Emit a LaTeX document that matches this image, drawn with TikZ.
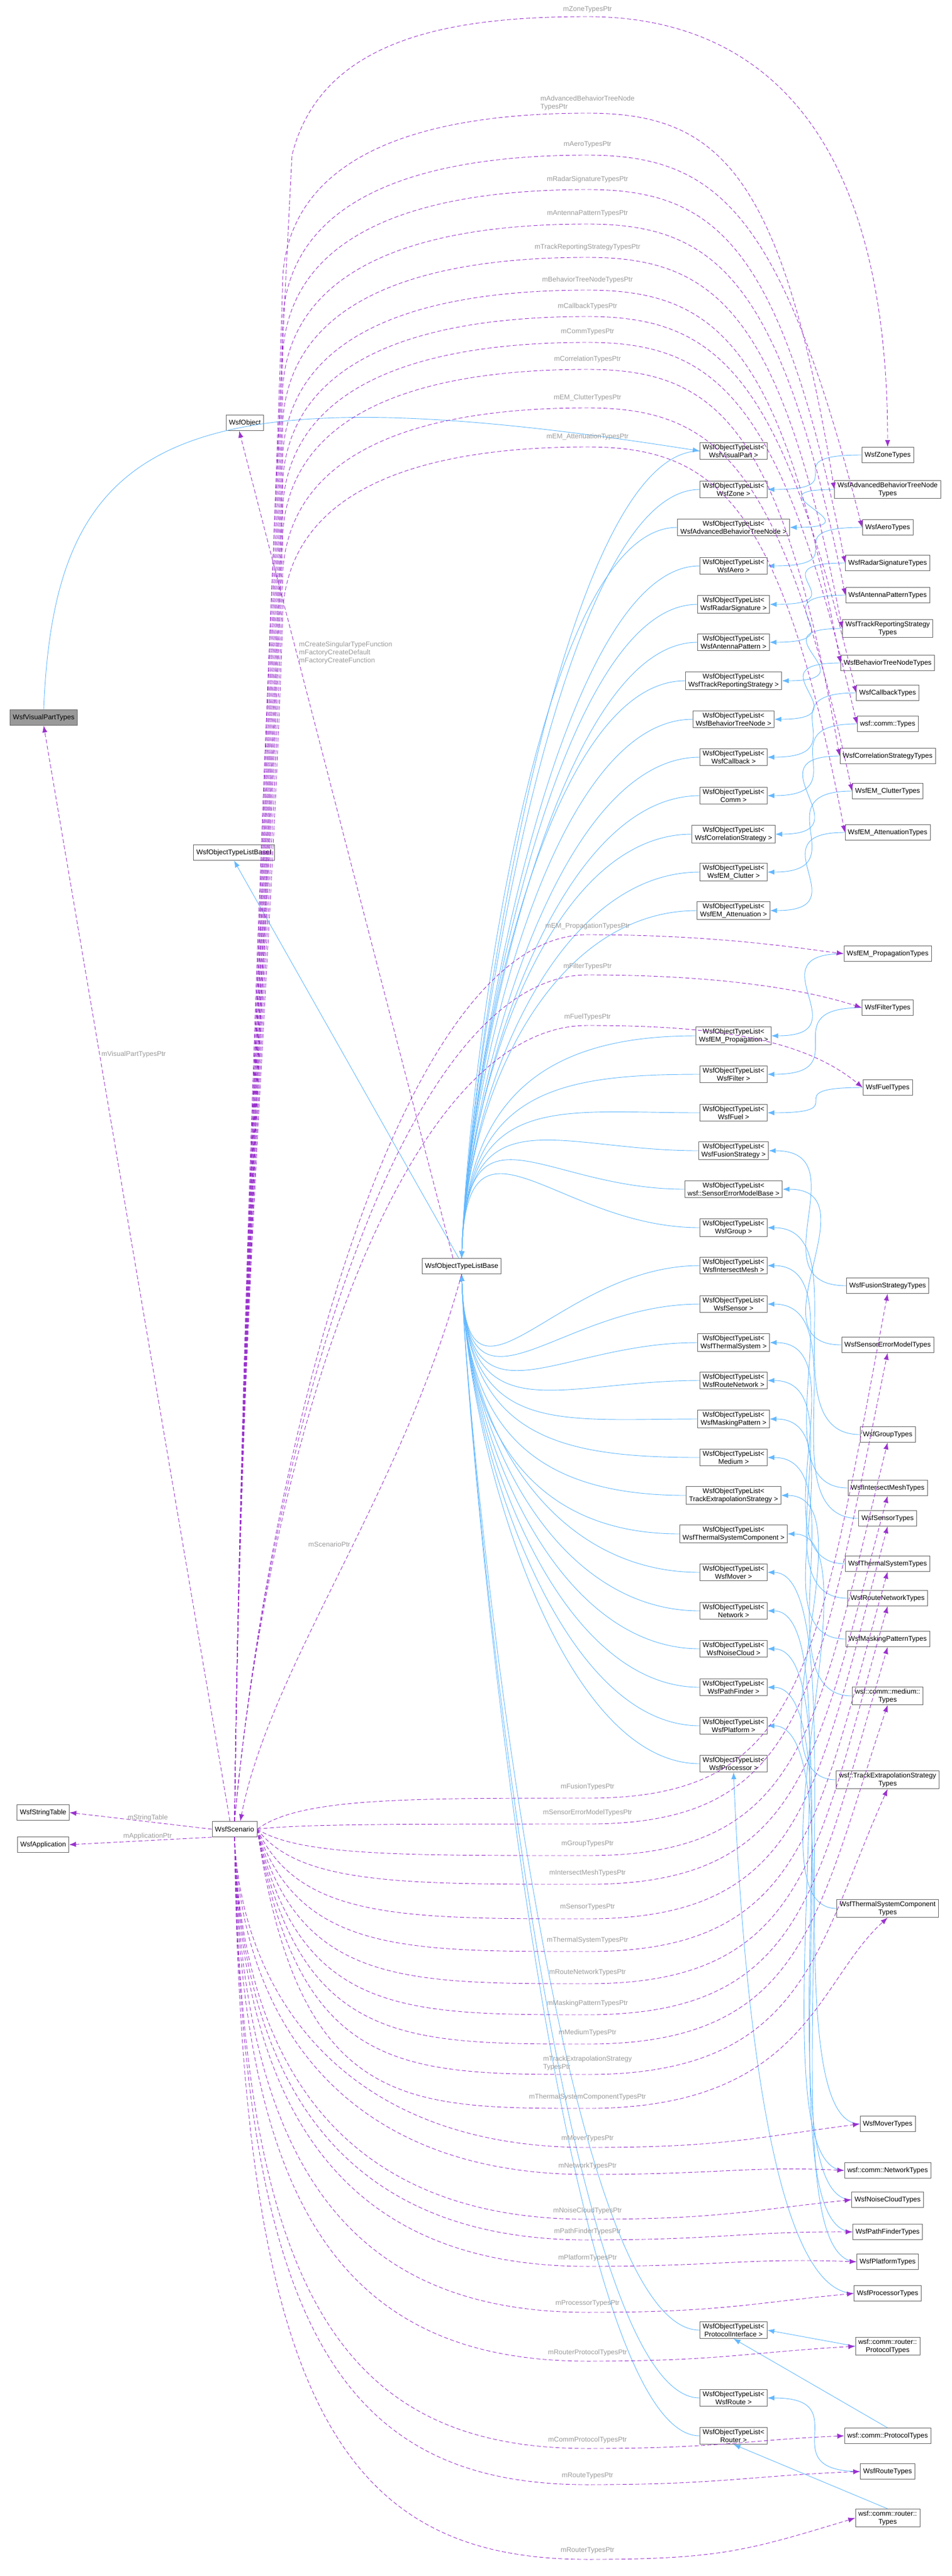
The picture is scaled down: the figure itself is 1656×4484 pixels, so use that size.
\documentclass[tikz,border=0pt]{standalone}
\usepackage{fontspec}
\setmainfont{Liberation Sans}
\usetikzlibrary{arrows.meta}
\definecolor{inhc}{HTML}{63B8FF}
\definecolor{usec}{HTML}{9A32CD}
\definecolor{lblc}{HTML}{9A9A9A}
\definecolor{bordc}{HTML}{666666}
\begin{document}
\begin{tikzpicture}[x=1pt,y=-1pt,
  box/.style={draw=bordc,line width=0.9pt,fill=white,align=center,inner xsep=5pt,inner ysep=3pt,minimum height=27pt,font=\fontsize{12}{14}\selectfont},
  lbl/.style={text=lblc,align=left,inner sep=1pt,font=\fontsize{12}{14}\selectfont},
  inh/.style={draw=inhc,line width=0.9pt,-{Latex[length=12pt,width=9pt]}},
  use/.style={draw=usec,line width=0.9pt,dash pattern=on 7pt off 4pt,-{Latex[length=12pt,width=9pt]}}]
\useasboundingbox (0,0) rectangle (1656,4484);

% left nodes
\node[box,fill=black!40] (vpt) at (76,1249) {WsfVisualPartTypes};
\node[box] (obj) at (426,736) {WsfObject};
\node[box] (basei) at (407,1484) {WsfObjectTypeListBaseI};
\node[box] (base) at (803,2204) {WsfObjectTypeListBase};
\node[box] (sc) at (408,3184) {WsfScenario};
\node[box] (st) at (75,3155) {WsfStringTable};
\node[box] (app) at (75,3211) {WsfApplication};

% ObjectTypeList nodes
\foreach \n/\t/\y in {vp/WsfVisualPart/785,zone/WsfZone/852,abtn/WsfAdvancedBehaviorTreeNode/918,aero/WsfAero/985,radar/WsfRadarSignature/1052,ant/WsfAntennaPattern/1118,trs/WsfTrackReportingStrategy/1185,btn/WsfBehaviorTreeNode/1252,cb/WsfCallback/1318,comm/Comm/1385,corr/WsfCorrelationStrategy/1452,clut/WsfEM\_Clutter/1518,att/WsfEM\_Attenuation/1585,prop/WsfEM\_Propagation/1803,filt/WsfFilter/1870,fuel/WsfFuel/1937,fus/WsfFusionStrategy/2003,sem/wsf::SensorErrorModelBase/2070,grp/WsfGroup/2137,im/WsfIntersectMesh/2203,sen/WsfSensor/2270,ts/WsfThermalSystem/2337,rn/WsfRouteNetwork/2403,mp/WsfMaskingPattern/2470,med/Medium/2537,te/TrackExtrapolationStrategy/2603,tsc/WsfThermalSystemComponent/2670,mov/WsfMover/2737,net/Network/2804,nc/WsfNoiseCloud/2870,pf/WsfPathFinder/2937,plat/WsfPlatform/3004,proc/WsfProcessor/3070,pi/ProtocolInterface/4056,rte/WsfRoute/4174,rtr/Router/4240}
  \node[box] (o-\n) at (1276,\y) {WsfObjectTypeList<\\ \t\ >};

% Types nodes
\foreach \n/\t/\y in {zone/WsfZoneTypes/792,abtn/{WsfAdvancedBehaviorTreeNode\\Types}/852,aero/WsfAeroTypes/918,radar/WsfRadarSignatureTypes/980,ant/WsfAntennaPatternTypes/1036,trs/{WsfTrackReportingStrategy\\Types}/1094,btn/WsfBehaviorTreeNodeTypes/1154,cb/WsfCallbackTypes/1206,comm/wsf::comm::Types/1260,corr/WsfCorrelationStrategyTypes/1316,clut/WsfEM\_ClutterTypes/1377,att/WsfEM\_AttenuationTypes/1449,prop/WsfEM\_PropagationTypes/1660,filt/WsfFilterTypes/1754,fuel/WsfFuelTypes/1893,fus/WsfFusionStrategyTypes/2238,sem/WsfSensorErrorModelTypes/2341,grp/WsfGroupTypes/2497,im/WsfIntersectMeshTypes/2590,sen/WsfSensorTypes/2643,ts/WsfThermalSystemTypes/2722,rn/WsfRouteNetworkTypes/2782,mp/WsfMaskingPatternTypes/2853,med/{wsf::comm::medium::\\Types}/2952,te/{wsf::TrackExtrapolationStrategy\\Types}/3098,tsc/{WsfThermalSystemComponent\\Types}/3322,mov/WsfMoverTypes/3697,net/wsf::comm::NetworkTypes/3778,nc/WsfNoiseCloudTypes/3829,pf/WsfPathFinderTypes/3885,plat/WsfPlatformTypes/3937,proc/WsfProcessorTypes/3992,pi/{wsf::comm::router::\\ProtocolTypes}/4084,cp/wsf::comm::ProtocolTypes/4240,rte/WsfRouteTypes/4302,rtr/{wsf::comm::router::\\Types}/4383}
  \node[box] (t-\n) at (1544,\y) {\t};

% inheritance: OTL -> base
\foreach \n in {vp,zone,abtn,aero,radar,ant,trs,btn,cb,comm,corr,clut,att,prop,filt,fuel,fus,sem,grp}
  \draw[inh] (o-\n.west) .. controls +(-250,0) and (812,1900) .. (base.north);
\foreach \n in {im,sen,ts,rn,mp,med,te,tsc,mov,net,nc,pf,plat,proc,pi,rte,rtr}
  \draw[inh] (o-\n.west) .. controls +(-250,0) and (812,2500) .. (base.south);
\draw[inh] (base.north) ++(-5,0) -- (basei.south);

% inheritance: Types -> OTL
\foreach \n in {zone,abtn,aero,radar,ant,trs,btn,cb,comm,corr,clut,att,prop,filt,fuel,fus,sem,grp,im,sen,ts,rn,mp,med,te,tsc,mov,net,nc,pf,plat,rte}
  \draw[inh] (t-\n.west) .. controls +(-160,0) and +(160,0) .. (o-\n.east);
\draw[inh] (t-proc.west) .. controls (1320,3990) and (1285,3300) .. (o-proc.south);
\draw[inh] (t-pi.west) -- (o-pi.east);
\draw[inh] (t-cp.north) -- (o-pi.south);
\draw[inh] (t-rtr.north) -- (o-rtr.south);
\draw[inh] (vpt.north) .. controls (95,760) and (300,640) .. (o-vp.west);

% usage from scenario
\draw[use] (sc.north) ++(-8,0) -- node[lbl,pos=0.7,right=2pt] {mVisualPartTypesPtr} (vpt.south);
\draw[use] (sc.west) -- node[lbl,above,pos=0.45] {mStringTable} (st.east);
\draw[use] (sc.south west) -- node[lbl,above,pos=0.45] {mApplicationPtr} (app.east);
\draw[use] (base.south) .. controls (700,2600) and (470,2900) .. node[lbl,pos=0.45,left=4pt] {mScenarioPtr} ([xshift=10pt]sc.north);
\draw[use] (base.north) ++(-15,0) -- ([xshift=-10pt]obj.south);
\node[lbl,anchor=west] at (519,1136) {mCreateSingularTypeFunction\\mFactoryCreateDefault\\mFactoryCreateFunction};

% top group
\foreach \n/\ly/\lab in {abtn/179/{mAdvancedBehaviorTreeNode\\TypesPtr},aero/252/mAeroTypesPtr,radar/312/mRadarSignatureTypesPtr,ant/372/mAntennaPatternTypesPtr,trs/430/mTrackReportingStrategyTypesPtr,btn/487/mBehaviorTreeNodeTypesPtr,cb/533/mCallbackTypesPtr,comm/578/mCommTypesPtr,corr/625/mCorrelationTypesPtr,clut/692/mEM\_ClutterTypesPtr,att/760/mEM\_AttenuationTypesPtr}{
  \node[lbl] at (1022,\ly) {\lab};
  \draw[use] (sc.north) .. controls (420,2200) and (475,\ly+900) .. (492,\ly+300) .. controls (510,\ly+60) and (800,\ly+18) .. (1022,\ly+18) .. controls (1250,\ly+18) and (1360,\ly+120) .. (t-\n.west);
}
\node[lbl] at (1022,17) {mZoneTypesPtr};
\draw[use] (sc.north) .. controls (420,2200) and (475,900) .. (508,270) .. controls (560,60) and (800,29) .. (1022,29) .. controls (1300,29) and (1544,200) .. (t-zone.north);
% middle group
\foreach \n/\ly/\lab in {prop/1612/mEM\_PropagationTypesPtr,filt/1682/mFilterTypesPtr,fuel/1770/mFuelTypesPtr}{
  \node[lbl] at (1022,\ly) {\lab};
  \draw[use] (sc.north) .. controls (470,2500) and (700,\ly+15) .. (1022,\ly+15) .. controls (1250,\ly+15) and (1400,\ly+40) .. (t-\n.west);
}
% lower group, going up
\foreach \n/\ly/\lab in {fus/3110/mFusionTypesPtr,sem/3155/mSensorErrorModelTypesPtr,grp/3210/mGroupTypesPtr,im/3260/mIntersectMeshTypesPtr,sen/3320/mSensorTypesPtr,ts/3377/mThermalSystemTypesPtr,rn/3433/mRouteNetworkTypesPtr,mp/3487/mMaskingPatternTypesPtr,med/3538/mMediumTypesPtr,te/3591/{mTrackExtrapolationStrategy\\TypesPtr},tsc/3650/mThermalSystemComponentTypesPtr}{
  \node[lbl] at (1022,\ly) {\lab};
  \draw[use] (sc.east) .. controls (520,\ly+20) and (700,\ly+20) .. (1022,\ly+20) .. controls (1400,\ly+20) and (1420,\ly-200) .. (t-\n.south);
}
% lower group, to west
\foreach \n/\ly/\lab in {mov/3723/mMoverTypesPtr,net/3770/mNetworkTypesPtr,nc/3848/mNoiseCloudTypesPtr,pf/3884/mPathFinderTypesPtr,plat/3930/mPlatformTypesPtr,proc/4010/mProcessorTypesPtr,pi/4095/mRouterProtocolTypesPtr,cp/4247/mCommProtocolTypesPtr,rte/4310/mRouteTypesPtr,rtr/4440/mRouterTypesPtr}{
  \node[lbl] at (1022,\ly) {\lab};
  \draw[use] (sc.south) .. controls (420,\ly-250) and (600,\ly+15) .. (1022,\ly+15) .. controls (1250,\ly+15) and (1300,\ly) .. (t-\n.west);
}
\end{tikzpicture}
\end{document}
